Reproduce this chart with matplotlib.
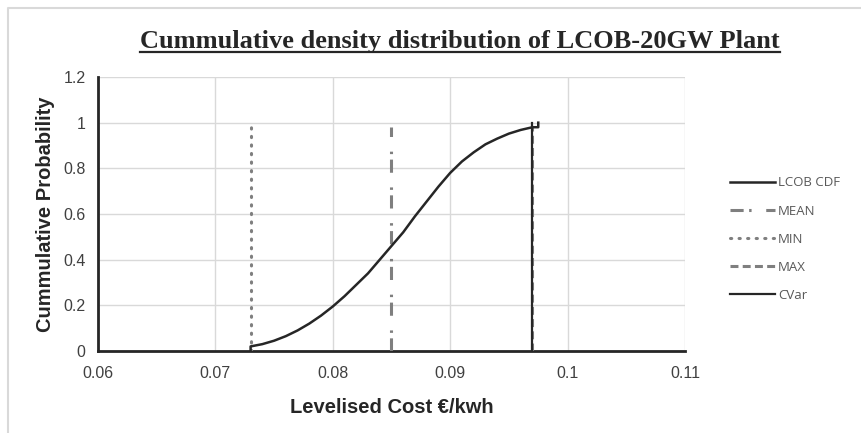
import numpy as np
import matplotlib.pyplot as plt
from matplotlib.lines import Line2D

# CDF values
cost = [0.073, 0.073, 0.074, 0.075, 0.076, 0.077, 0.078, 0.079, 0.080, 0.081, 0.082,
        0.083, 0.084, 0.085, 0.086, 0.087, 0.088, 0.089, 0.090, 0.091, 0.092, 0.093,
        0.094, 0.095, 0.096, 0.097, 0.0975, 0.0975]
prob = [0.0, 0.02, 0.03, 0.045, 0.065, 0.09, 0.12, 0.155, 0.195, 0.24, 0.29,
        0.34, 0.40, 0.46, 0.52, 0.59, 0.655, 0.72, 0.78, 0.83, 0.87, 0.905,
        0.93, 0.952, 0.968, 0.98, 0.98, 1.0]

mean_cost = 0.085
min_cost = 0.073
max_cost = 0.097
cvar_cost = 0.097
line_top = 0.98
cvar_top = 1.0

xticks = [0.06, 0.07, 0.08, 0.09, 0.1, 0.11]
xtick_labels = ['0.06', '0.07', '0.08', '0.09', '0.1', '0.11']
yticks = [0, 0.2, 0.4, 0.6, 0.8, 1.0, 1.2]
ytick_labels = ['0', '0.2', '0.4', '0.6', '0.8', '1', '1.2']

fig = plt.figure(figsize=(8.61, 4.33), dpi=100)
ax = fig.add_axes([0.1138, 0.1894, 0.6818, 0.6328])

grey = '#7f7f7f'
dark = '#262626'
mean_dash = (4.3, 1.8, 0.8, 4.8)
min_dash = (0, (0.4, 2.4))
max_dash = (2.6, 1.4)

ax.plot(cost, prob, color=dark, lw=1.8, label='LCOB CDF', zorder=4)
ax.plot([mean_cost, mean_cost], [0, line_top], color=grey, lw=2.2,
        dashes=mean_dash, label='MEAN', zorder=3)
ax.plot([min_cost, min_cost], [0, line_top], color=grey, lw=2.2,
        linestyle=min_dash, dash_capstyle='round', label='MIN', zorder=3)
ax.plot([max_cost, max_cost], [0, line_top], color=grey, lw=2.2,
        dashes=max_dash, label='MAX', zorder=3)
ax.plot([cvar_cost, cvar_cost], [0, cvar_top], color=dark, lw=1.6, label='CVar', zorder=5)

ax.set_xlim(0.06, 0.11)
ax.set_ylim(0, 1.2)
ax.set_xticks(xticks)
ax.set_xticklabels(xtick_labels)
ax.set_yticks(yticks)
ax.set_yticklabels(ytick_labels)
ax.tick_params(length=0, labelsize=11.5, labelcolor='#404040')
ax.tick_params(axis='x', pad=11)
ax.tick_params(axis='y', pad=9)
for lab in ax.get_xticklabels() + ax.get_yticklabels():
    lab.set_family('Liberation Sans')

ax.grid(True, color='#d9d9d9', lw=1)
ax.set_axisbelow(True)
for s in ['top', 'right']:
    ax.spines[s].set_visible(False)
for s in ['left', 'bottom']:
    ax.spines[s].set_color(dark)
    ax.spines[s].set_linewidth(2)

ax.set_xlabel('Levelised Cost €/kwh', fontsize=14.5, fontweight='bold',
              family='Liberation Sans', color=dark, labelpad=12)
ax.set_ylabel('Cummulative Probability', fontsize=14.5, fontweight='bold',
              family='Liberation Sans', color=dark, labelpad=6)

handles = [
    Line2D([], [], color=dark, lw=1.8),
    Line2D([], [], color=grey, lw=2.2, dashes=mean_dash),
    Line2D([], [], color=grey, lw=2.2, linestyle=min_dash, dash_capstyle='round'),
    Line2D([], [], color=grey, lw=2.2, dashes=max_dash),
    Line2D([], [], color=dark, lw=1.6),
]
leg = fig.legend(handles, ['LCOB CDF', 'MEAN', 'MIN', 'MAX', 'CVar'],
                 loc='upper left', bbox_to_anchor=(0.834, 0.62), frameon=False,
                 handlelength=3.4, handletextpad=0.25, labelspacing=1.15,
                 prop={'family': 'Open Sans', 'size': 9.5})
for t in leg.get_texts():
    t.set_color('#595959')

title = fig.text(0.534, 0.905, 'Cummulative density distribution of LCOB-20GW Plant',
                 ha='center', va='center', fontsize=19, fontweight='bold',
                 family='Liberation Serif', color=dark)

# underline the title
fig.canvas.draw()
bb = title.get_window_extent().transformed(fig.transFigure.inverted())
fig.add_artist(Line2D([bb.x0, bb.x1], [bb.y0 + 0.002, bb.y0 + 0.002],
                      transform=fig.transFigure, color=dark, lw=1.6))

# chart area border (top and left only visible)
fig.add_artist(Line2D([0.0093, 0.0093, 1.0], [0.0, 0.981, 0.981],
                      transform=fig.transFigure, color='#d9d9d9', lw=1.5))

fig.savefig('out.png', dpi=100)
